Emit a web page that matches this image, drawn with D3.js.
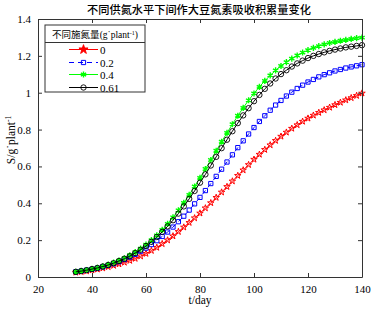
<!DOCTYPE html>
<html>
<head>
<meta charset="utf-8">
<script src="https://cdn.jsdelivr.net/npm/d3@7"></script>
<style>
  body { margin: 0; background: #fff; }
  svg { display: block; }
  text { font-family: "Liberation Serif", "Times New Roman", "Noto Sans CJK SC", serif; fill: #000; }
</style>
</head>
<body>
<div id="chart"></div>
<script>
const days = d3.range(34, 141, 2);

const n0 = [0.025, 0.028, 0.032, 0.037, 0.042, 0.048, 0.055, 0.062, 0.070, 0.079,
  0.089, 0.100, 0.113, 0.127, 0.143, 0.160, 0.180, 0.200, 0.222, 0.246,
  0.270, 0.295, 0.320, 0.346, 0.374, 0.402, 0.431, 0.460, 0.490, 0.520,
  0.550, 0.580, 0.609, 0.638, 0.665, 0.691, 0.716, 0.740, 0.763, 0.785,
  0.806, 0.825, 0.844, 0.861, 0.877, 0.892, 0.906, 0.920, 0.934, 0.947,
  0.960, 0.972, 0.984, 0.997];

const n02 = [0.028, 0.032, 0.037, 0.042, 0.048, 0.055, 0.063, 0.072, 0.083, 0.095,
  0.108, 0.123, 0.140, 0.157, 0.176, 0.197, 0.220, 0.244, 0.271, 0.300,
  0.330, 0.363, 0.397, 0.432, 0.469, 0.507, 0.546, 0.585, 0.624, 0.663,
  0.702, 0.739, 0.776, 0.811, 0.844, 0.875, 0.905, 0.933, 0.958, 0.982,
  1.003, 1.023, 1.041, 1.058, 1.072, 1.086, 1.098, 1.108, 1.118, 1.126,
  1.134, 1.140, 1.146, 1.152];

const n04 = [0.028, 0.033, 0.038, 0.044, 0.050, 0.058, 0.067, 0.078, 0.089, 0.102,
  0.118, 0.135, 0.154, 0.176, 0.200, 0.226, 0.256, 0.288, 0.324, 0.362,
  0.402, 0.446, 0.491, 0.538, 0.586, 0.635, 0.685, 0.734, 0.782, 0.829,
  0.875, 0.918, 0.959, 0.996, 1.032, 1.064, 1.094, 1.121, 1.145, 1.166,
  1.185, 1.202, 1.218, 1.231, 1.243, 1.253, 1.262, 1.270, 1.276, 1.282,
  1.287, 1.292, 1.296, 1.299];

const n061 = [0.028, 0.032, 0.037, 0.043, 0.049, 0.057, 0.065, 0.075, 0.087, 0.099,
  0.113, 0.130, 0.148, 0.168, 0.191, 0.217, 0.245, 0.275, 0.308, 0.344,
  0.383, 0.424, 0.467, 0.512, 0.557, 0.605, 0.652, 0.699, 0.745, 0.791,
  0.835, 0.877, 0.916, 0.954, 0.988, 1.021, 1.050, 1.077, 1.101, 1.122,
  1.142, 1.159, 1.174, 1.188, 1.200, 1.210, 1.219, 1.227, 1.234, 1.240,
  1.246, 1.250, 1.254, 1.258];

const seriesNames = ['0', '0.2', '0.4', '0.61'];
const seriesValues = [n0, n02, n04, n061];
const xTicks = [20, 40, 60, 80, 100, 120, 140];
const yTicks = [0, 0.2, 0.4, 0.6, 0.8, 1, 1.2, 1.4];

const styles = [
  { color: '#ff0000', dash: null, symbol: d3.symbolStar, size: 13, stroke: 1 },
  { color: '#0000ff', dash: '5,4', symbol: d3.symbolSquare, size: 18, stroke: 1 },
  { color: '#00ff00', dash: null, symbol: d3.symbolAsterisk, size: 26, stroke: 1.4 },
  { color: '#000000', dash: null, symbol: d3.symbolCircle, size: 23, stroke: 0.9 }
];

const width = 373, height = 310;
const margin = { top: 19, right: 11, bottom: 33, left: 38 };
const innerWidth = width - margin.left - margin.right;
const innerHeight = height - margin.top - margin.bottom;

const svg = d3.select('#chart').append('svg')
  .attr('width', width)
  .attr('height', height);

const g = svg.append('g').attr('transform', `translate(${margin.left},${margin.top})`);

const x = d3.scaleLinear().domain([20, 140]).range([0, innerWidth]);
const y = d3.scaleLinear().domain([0, 1.4]).range([innerHeight, 0]);

// series
seriesValues.forEach((vals, i) => {
  const s = styles[i];
  const pts = vals.map((v, j) => ({ t: days[j], v }));
  g.append('path')
    .datum(pts)
    .attr('fill', 'none')
    .attr('stroke', s.color)
    .attr('stroke-width', 1)
    .attr('stroke-dasharray', s.dash)
    .attr('d', d3.line().x(d => x(d.t)).y(d => y(d.v)));

  g.append('g').selectAll('path')
    .data(pts)
    .join('path')
    .attr('transform', d => `translate(${x(d.t)},${y(d.v)})`)
    .attr('d', d3.symbol(s.symbol, s.size))
    .attr('fill', 'none')
    .attr('stroke', s.color)
    .attr('stroke-width', s.stroke);
});

// axes: ticks inside on all four sides
const axisColor = '#333';
const tickLen = 4;
const xAxis = g.append('g').attr('transform', `translate(0,${innerHeight})`)
  .call(d3.axisBottom(x).tickValues(xTicks).tickSizeInner(-tickLen).tickSizeOuter(0).tickPadding(8));
const yAxis = g.append('g')
  .call(d3.axisLeft(y).tickValues(yTicks).tickSizeInner(-tickLen).tickSizeOuter(0).tickPadding(7).tickFormat(d3.format('~g')));
const xTop = g.append('g')
  .call(d3.axisTop(x).tickValues(xTicks).tickSizeInner(-tickLen).tickSizeOuter(0).tickFormat(''));
const yRight = g.append('g').attr('transform', `translate(${innerWidth},0)`)
  .call(d3.axisRight(y).tickValues(yTicks).tickSizeInner(-tickLen).tickSizeOuter(0).tickFormat(''));

[xAxis, yAxis, xTop, yRight].forEach(a => {
  a.attr('font-family', null).attr('font-size', null);
  a.select('.domain').attr('stroke', axisColor);
  a.selectAll('.tick line').attr('stroke', axisColor);
  a.selectAll('.tick text')
    .style('font-size', '11px')
    .attr('fill', '#000');
});

// labels
svg.append('text')
  .attr('x', margin.left + innerWidth / 2)
  .attr('y', 304)
  .attr('text-anchor', 'middle')
  .style('font-size', '11.5px')
  .text('t/day');

svg.append('text')
  .attr('transform', `translate(15,${margin.top + 121}) rotate(-90)`)
  .attr('text-anchor', 'middle')
  .style('font-size', '11.5px')
  .html('S/g˙plant<tspan dy="-4" font-size="7.5px">-1</tspan>');

svg.append('text')
  .attr('x', 199)
  .attr('y', 14)
  .attr('text-anchor', 'middle')
  .style('font-size', '11.2px')
  .style('font-weight', '500')
  .style('font-family', '"Noto Sans CJK SC", sans-serif')
  .text('不同供氮水平下间作大豆氮素吸收积累量变化');

// legend
const lg = svg.append('g').attr('transform', 'translate(45,25)');
lg.append('rect')
  .attr('width', 100).attr('height', 67)
  .attr('fill', '#fff').attr('stroke', axisColor).attr('stroke-width', 1);
lg.append('line')
  .attr('x1', 0).attr('x2', 100).attr('y1', 17.5).attr('y2', 17.5)
  .attr('stroke', axisColor);
const lt = lg.append('text')
  .attr('x', 50).attr('y', 13)
  .attr('text-anchor', 'middle')
  .style('font-size', '9.5px');
lt.append('tspan').style('font-family', '"Noto Sans CJK SC", sans-serif').text('不同施氮量');
lt.append('tspan').text('(g˙plant');
lt.append('tspan').attr('dy', -3).style('font-size', '6px').text('-1');
lt.append('tspan').attr('dy', 3).text(')');

const rowY = [24.5, 37.5, 49.5, 62.5];
seriesNames.forEach((name, i) => {
  const s = styles[i];
  const row = lg.append('g').attr('transform', `translate(0,${rowY[i]})`);
  row.append('line')
    .attr('x1', 24).attr('x2', 53)
    .attr('stroke', s.color).attr('stroke-width', 1)
    .attr('stroke-dasharray', s.dash);
  row.append('path')
    .attr('transform', 'translate(38.5,0)')
    .attr('d', d3.symbol(s.symbol, i === 0 ? 26 : s.size))
    .attr('fill', i === 0 ? s.color : 'none')
    .attr('stroke', s.color)
    .attr('stroke-width', s.stroke);
  row.append('text')
    .attr('x', 55).attr('y', 4)
    .style('font-size', '11px')
    .text(name);
});
</script>
</body>
</html>
